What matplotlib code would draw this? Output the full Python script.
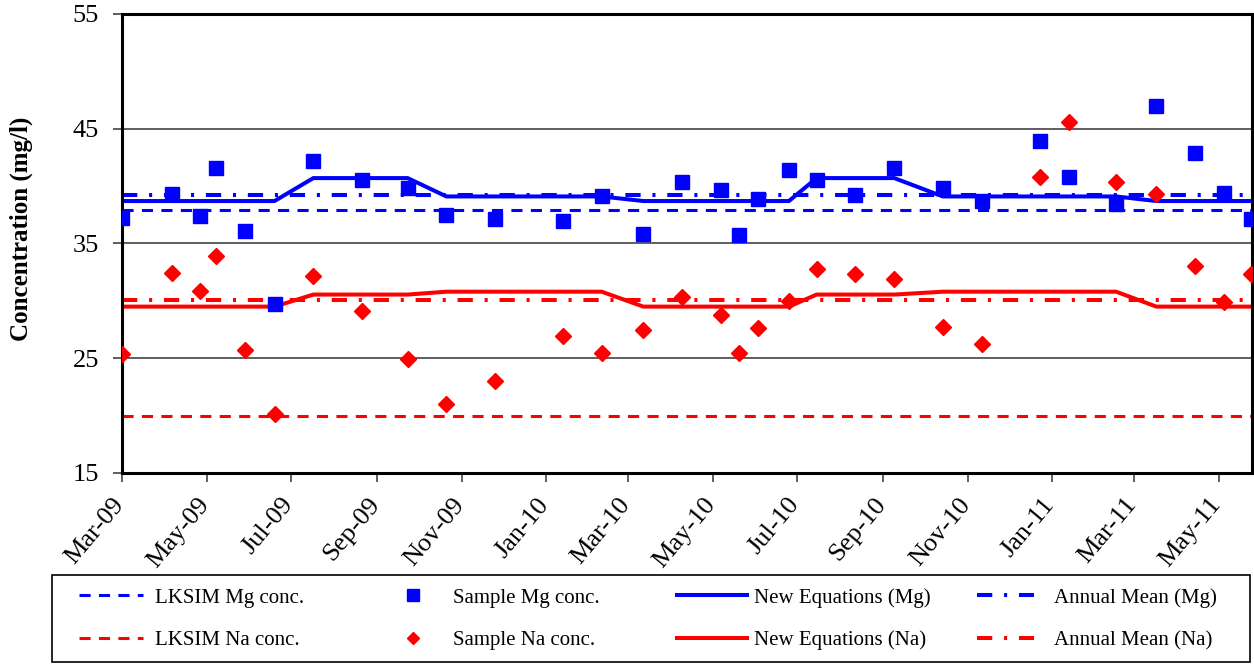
import matplotlib
matplotlib.use('Agg')
import matplotlib.pyplot as plt
import matplotlib.dates as mdates
import matplotlib.transforms as mtransforms
from matplotlib.patches import Rectangle
import numpy as np

plt.rcParams['font.family'] = ['Liberation Serif', 'DejaVu Serif']
plt.rcParams['lines.scale_dashes'] = False

# ---------------- data ----------------
sample_dates = ['2009-03-01', '2009-04-06', '2009-04-26', '2009-05-08', '2009-05-29',
                '2009-06-19', '2009-07-17', '2009-08-21', '2009-09-23', '2009-10-21',
                '2009-11-25', '2010-01-13', '2010-02-10', '2010-03-12', '2010-04-09',
                '2010-05-07', '2010-05-20', '2010-06-03', '2010-06-25', '2010-07-15',
                '2010-08-12', '2010-09-09', '2010-10-14', '2010-11-11', '2010-12-23',
                '2011-01-13', '2011-02-16', '2011-03-17', '2011-04-14', '2011-05-05',
                '2011-05-24']
mg_sample = [37.2, 39.3, 37.4, 41.6, 36.1, 29.7, 42.2, 40.5, 39.8, 37.5,
             37.1, 37.0, 39.1, 35.8, 40.4, 39.7, 35.7, 38.9, 41.4, 40.5,
             39.2, 41.6, 39.8, 38.7, 43.9, 40.8, 38.4, 47.0, 42.9, 39.4,
             37.1]
na_sample = [25.4, 32.4, 30.9, 33.9, 25.7, 20.1, 32.2, 29.1, 24.9, 21.0,
             23.0, 26.9, 25.5, 27.5, 30.3, 28.8, 25.5, 27.6, 30.0, 32.8,
             32.3, 31.9, 27.7, 26.2, 40.8, 45.6, 40.4, 39.3, 33.0, 29.9,
             32.3]
mg_new_eq = [38.7, 38.7, 38.7, 38.7, 38.7, 38.7, 40.7, 40.7, 40.7, 39.1,
             39.1, 39.1, 39.1, 38.7, 38.7, 38.7, 38.7, 38.7, 38.7, 40.7,
             40.7, 40.7, 39.1, 39.1, 39.1, 39.1, 39.1, 38.7, 38.7, 38.7,
             38.7]
na_new_eq = [29.5, 29.5, 29.5, 29.5, 29.5, 29.5, 30.55, 30.55, 30.55, 30.8,
             30.8, 30.8, 30.8, 29.5, 29.5, 29.5, 29.5, 29.5, 29.5, 30.55,
             30.55, 30.55, 30.8, 30.8, 30.8, 30.8, 30.8, 29.5, 29.5, 29.5,
             29.5]
lksim_mg = 37.9
lksim_na = 20.0
annual_mean_mg = 39.2
annual_mean_na = 30.05
x_limits = ['2009-03-01', '2011-05-25']
y_ticks = [15, 25, 35, 45, 55]
y_label = 'Concentration (mg/l)'
labels_mg = ['LKSIM Mg conc.', 'Sample Mg conc.', 'New Equations (Mg)', 'Annual Mean (Mg)']
labels_na = ['LKSIM Na conc.', 'Sample Na conc.', 'New Equations (Na)', 'Annual Mean (Na)']

# ---------------- figure ----------------
W, H = 1254, 664
fig = plt.figure(figsize=(W / 100, H / 100), dpi=100)
ax = fig.add_axes([122 / W, (H - 473) / H, (1252 - 122) / W, (473 - 14) / H])

dates = np.array(sample_dates, dtype='datetime64[D]')
span = np.array([sample_dates[0], sample_dates[-1]], dtype='datetime64[D]')

BLUE = '#0000FF'
RED = '#FF0000'
dash_style = (0, (8.0, 6.0))
dashdot_style = (0, (11.0, 8.5, 2.2, 8.5))

l_lk_mg, = ax.plot(span, [lksim_mg, lksim_mg], color=BLUE, lw=2.2, linestyle=dash_style)
l_new_mg, = ax.plot(dates, mg_new_eq, color=BLUE, lw=2.9, solid_joinstyle='miter')
l_am_mg, = ax.plot(span, [annual_mean_mg, annual_mean_mg], color=BLUE, lw=2.9, linestyle=dashdot_style)
l_lk_na, = ax.plot(span, [lksim_na, lksim_na], color=RED, lw=2.2, linestyle=dash_style)
l_new_na, = ax.plot(dates, na_new_eq, color=RED, lw=2.9)
l_am_na, = ax.plot(span, [annual_mean_na, annual_mean_na], color=RED, lw=2.9, linestyle=dashdot_style)

s_na, = ax.plot(dates, na_sample, linestyle='none', marker='D', ms=8, color=RED, mec=RED, zorder=4)
s_mg, = ax.plot(dates, mg_sample, linestyle='none', marker='s', ms=10, color=BLUE, mec=BLUE, zorder=5)

ax.set_xlim(np.datetime64(x_limits[0]), np.datetime64(x_limits[1]))
ax.set_ylim(y_ticks[0], y_ticks[-1])
ax.set_yticks(y_ticks)
ax.xaxis.set_major_locator(mdates.MonthLocator(bymonth=[1, 3, 5, 7, 9, 11]))
ax.xaxis.set_major_formatter(mdates.DateFormatter('%b-%y'))
ax.yaxis.grid(True, color='#333333', lw=1.1)
ax.set_axisbelow(True)

for sp in ax.spines.values():
    sp.set_linewidth(2.2)
    sp.set_color('black')

ax.tick_params(axis='both', direction='out', length=6.5, width=1.1, color='#333333')
ax.tick_params(axis='y', pad=10, labelsize=19)
ax.tick_params(axis='x', pad=8.5, labelsize=19)

shift = mtransforms.ScaledTranslation(0.07, 0, fig.dpi_scale_trans)
for tick in ax.xaxis.get_major_ticks():
    lab = tick.label1
    lab.set_rotation(50)
    lab.set_ha('right')
    lab.set_va('top')
    lab.set_transform(lab.get_transform() + shift)

ax.set_ylabel(y_label, fontsize=18, fontweight='bold')
ax.yaxis.set_label_coords(-0.0785, 0.533)

# ---------------- legend ----------------
fig.patches.append(Rectangle((52 / W, 2 / H), (1250 - 52) / W, (662 - 575) / H,
                             transform=fig.transFigure, fill=False, edgecolor='black',
                             lw=1.2, zorder=0))

col_handles = [(l_lk_mg, l_lk_na), (s_mg, s_na), (l_new_mg, l_new_na), (l_am_mg, l_am_na)]
col_x = [79, 381, 677, 977]
col_hl = [3.07, 3.07, 3.36, 2.74]
col_pad = [0.58, 0.4, 0.34, 0.96]
for i in range(4):
    leg = fig.legend(list(col_handles[i]), [labels_mg[i], labels_na[i]],
                     loc='center left', bbox_to_anchor=(col_x[i] / W, (H - 619) / H),
                     frameon=False, fontsize=15, handlelength=col_hl[i],
                     handletextpad=col_pad[i], labelspacing=1.09, borderpad=0,
                     borderaxespad=0, markerscale=0.8, numpoints=1)

fig.savefig('out.png', dpi=100)
